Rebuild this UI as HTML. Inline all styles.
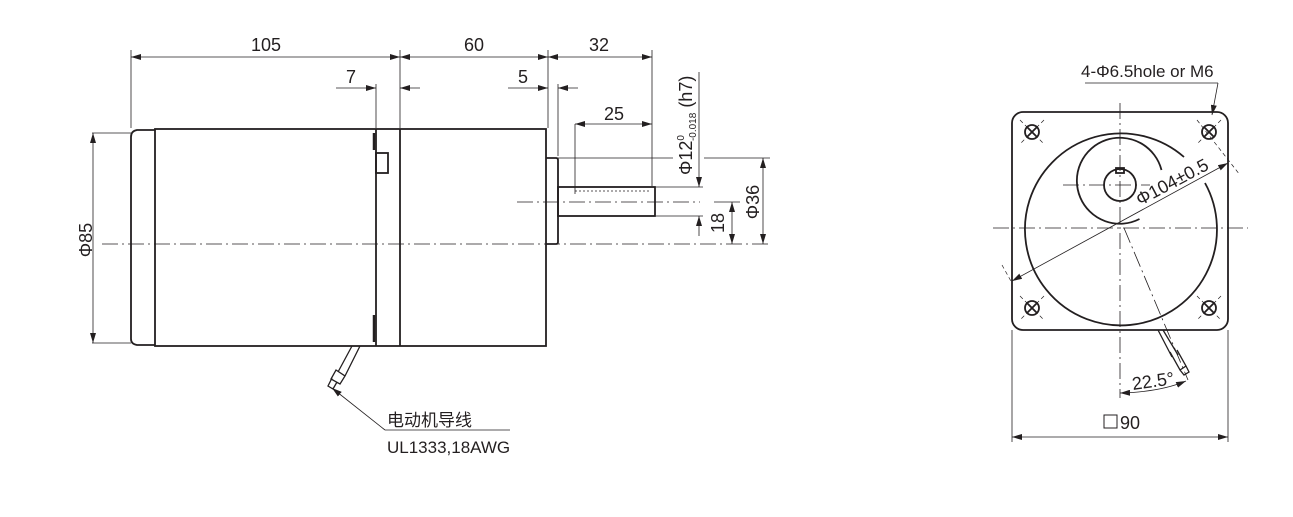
<!DOCTYPE html>
<html><head><meta charset="utf-8"><style>
html,body{margin:0;padding:0;background:#fff;}
svg{display:block;}
text{font-family:"Liberation Sans Narrow","Liberation Sans","Noto Sans CJK SC",sans-serif;fill:#231f20;}
</style></head><body>
<svg width="1293" height="517" viewBox="0 0 1293 517" xmlns="http://www.w3.org/2000/svg">
<defs>
<marker id="a" viewBox="0 0 10 6" refX="10" refY="3" markerWidth="10" markerHeight="6" orient="auto-start-reverse" markerUnits="userSpaceOnUse"><path d="M0,0 L10,3 L0,6 z" fill="#231f20"/></marker>
</defs>
<g stroke="#231f20" fill="none">
<g stroke-width="1.8">
<path d="M155,130 L137,130 Q131,131 131,137 L131,339 Q131,344 137,345 L155,345"/>
<rect x="155" y="129" width="391" height="217"/>
<line x1="376" y1="129" x2="376" y2="346"/>
<line x1="400" y1="129" x2="400" y2="346"/>
<rect x="376" y="153" width="12" height="20"/>
<path d="M546,158 L556,158 Q558,158 558,160 L558,242 Q558,244 556,244 L546,244"/>
<rect x="558" y="187" width="97" height="29"/>
</g>
<line x1="374" y1="133" x2="374" y2="150" stroke-width="2.5"/>
<line x1="374" y1="315" x2="374" y2="342" stroke-width="2.5"/>
<line x1="575" y1="191" x2="651" y2="191" stroke-width="0.8" stroke-dasharray="2,2"/>
<g stroke-width="1.3">
<path d="M352,346 L338,372 M360,346 L345,376 M336,370 L345,376 L340,384 L331,379 Z M332,378 L328,386 L333,389 L337,382"/>
</g>
<g stroke-width="0.8" stroke-dasharray="16,4,2,4">
<line x1="102" y1="244" x2="770" y2="244"/>
<line x1="517" y1="202" x2="700" y2="202"/>
</g>
<g stroke-width="0.8">
<line x1="131" y1="50" x2="131" y2="128"/>
<line x1="400" y1="50" x2="400" y2="128"/>
<line x1="548" y1="50" x2="548" y2="128"/>
<line x1="652" y1="50" x2="652" y2="186"/>
<line x1="131" y1="57" x2="400" y2="57" marker-start="url(#a)" marker-end="url(#a)"/>
<line x1="400" y1="57" x2="548" y2="57" marker-start="url(#a)" marker-end="url(#a)"/>
<line x1="548" y1="57" x2="652" y2="57" marker-start="url(#a)" marker-end="url(#a)"/>
<line x1="376" y1="84" x2="376" y2="128"/>
<line x1="558" y1="84" x2="558" y2="156"/>
<line x1="336" y1="88" x2="376" y2="88" marker-end="url(#a)"/>
<line x1="420" y1="88" x2="400" y2="88" marker-end="url(#a)"/>
<line x1="508" y1="88" x2="548" y2="88" marker-end="url(#a)"/>
<line x1="578" y1="88" x2="558" y2="88" marker-end="url(#a)"/>
<line x1="575" y1="124" x2="575" y2="194"/>
<line x1="575" y1="124" x2="652" y2="124" marker-start="url(#a)" marker-end="url(#a)"/>
<line x1="92" y1="133" x2="131" y2="133"/>
<line x1="92" y1="343" x2="131" y2="343"/>
<line x1="93" y1="133" x2="93" y2="343" marker-start="url(#a)" marker-end="url(#a)"/>
<line x1="656" y1="187" x2="703" y2="187"/>
<line x1="656" y1="216" x2="703" y2="216"/>
<line x1="699" y1="72" x2="699" y2="187" marker-end="url(#a)"/>
<line x1="699" y1="236" x2="699" y2="216" marker-end="url(#a)"/>
<line x1="558" y1="158" x2="673" y2="158"/>
<line x1="704" y1="158" x2="770" y2="158"/>
<line x1="732" y1="202" x2="732" y2="244" marker-start="url(#a)" marker-end="url(#a)"/>
<line x1="763" y1="158" x2="763" y2="244" marker-start="url(#a)" marker-end="url(#a)"/>
<line x1="714" y1="202" x2="740" y2="202"/>
<line x1="385" y1="430" x2="332" y2="388" marker-end="url(#a)"/>
<line x1="385" y1="430" x2="510" y2="430"/>
</g>

<g stroke-width="1.8">
<rect x="1012" y="112" width="216" height="218" rx="11"/>
<path d="M1205,183 A96,96 0 1 1 1184,157"/>
<path d="M1161.5,170 A43,43 0 1 0 1139.5,219"/>
<circle cx="1120" cy="185" r="16"/>
<rect x="1116" y="168" width="8" height="5"/>
<g>
<circle cx="1032" cy="132" r="7"/><path d="M1027,127 L1037,137 M1037,127 L1027,137"/>
<circle cx="1209" cy="132" r="7"/><path d="M1204,127 L1214,137 M1214,127 L1204,137"/>
<circle cx="1032" cy="308" r="7"/><path d="M1027,303 L1037,313 M1037,303 L1027,313"/>
<circle cx="1209" cy="308" r="7"/><path d="M1204,303 L1214,313 M1214,303 L1204,313"/>
</g>
</g>
<g stroke-width="1.3">
<path d="M1158,330 L1172,357 M1163,330 L1178,355 M1170,352 L1180,370 L1186,366 L1177,350 M1180,370 L1184,375 L1189,372 L1186,366"/>
</g>
<g stroke-width="0.8" stroke-dasharray="16,4,2,4">
<line x1="993" y1="228" x2="1248" y2="228"/>
<line x1="1120" y1="103" x2="1120" y2="398"/>
<line x1="1063" y1="185" x2="1150" y2="185"/>
<line x1="1124" y1="228" x2="1188" y2="380"/>
</g>
<g stroke-width="0.7" stroke-dasharray="4,3">
<line x1="1020" y1="120" x2="1044" y2="144"/><line x1="1044" y1="120" x2="1020" y2="144"/>
<line x1="1197" y1="120" x2="1240" y2="175"/><line x1="1221" y1="120" x2="1197" y2="144"/>
<line x1="1020" y1="296" x2="1044" y2="320"/><line x1="1044" y1="296" x2="1020" y2="320"/>
<line x1="1197" y1="296" x2="1221" y2="320"/><line x1="1221" y1="296" x2="1197" y2="320"/>
<line x1="1002" y1="265" x2="1012" y2="283"/>
</g>
<g stroke-width="0.8">
<line x1="1012" y1="281" x2="1228" y2="163" marker-start="url(#a)" marker-end="url(#a)"/>
<line x1="1085" y1="83" x2="1218" y2="83"/>
<line x1="1218" y1="83" x2="1212" y2="115" marker-end="url(#a)"/>
<line x1="1012" y1="330" x2="1012" y2="442"/>
<line x1="1228" y1="330" x2="1228" y2="442"/>
<line x1="1012" y1="437" x2="1228" y2="437" marker-start="url(#a)" marker-end="url(#a)"/>
<path d="M1120,393 Q1160,392 1186,381" marker-start="url(#a)" marker-end="url(#a)"/>
</g>
</g>

<g font-size="18">
<text x="266" y="51" text-anchor="middle">105</text>
<text x="474" y="51" text-anchor="middle">60</text>
<text x="599" y="51" text-anchor="middle">32</text>
<text x="351" y="83" text-anchor="middle">7</text>
<text x="523" y="83" text-anchor="middle">5</text>
<text x="614" y="120" text-anchor="middle">25</text>
<text transform="translate(92,240) rotate(-90)" text-anchor="middle">Φ85</text>
<text transform="translate(724,223) rotate(-90)" text-anchor="middle">18</text>
<text transform="translate(759,202) rotate(-90)" text-anchor="middle">Φ36</text>
<text transform="translate(692,175) rotate(-90)">Φ12<tspan font-size="10" dy="-8">0</tspan><tspan font-size="10" dx="-6" dy="12">-0.018</tspan><tspan dy="-4"> (h7)</tspan></text>
<text x="387" y="426" font-size="17">电动机导线</text>
<text x="387" y="453" font-size="17">UL1333,18AWG</text>
<text x="1081" y="77" font-size="17">4-Φ6.5hole or M6</text>
<text transform="translate(1140,206) rotate(-28)">Φ104±0.5</text>
<text transform="translate(1133,390) rotate(-8)">22.5°</text>
<text x="1120" y="429">90</text>
</g>
<rect x="1104" y="415" width="13" height="13" fill="none" stroke="#231f20" stroke-width="1"/>
</svg>
</body></html>
